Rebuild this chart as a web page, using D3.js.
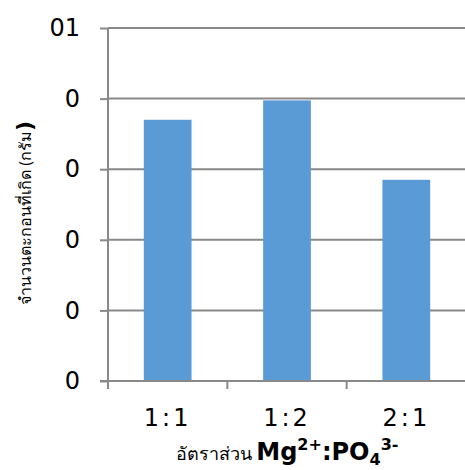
<!DOCTYPE html>
<html>
<head>
<meta charset="utf-8">
<script src="https://cdn.jsdelivr.net/npm/d3@7"></script>
<style>
  html, body { margin: 0; padding: 0; background: #fff; }
  svg { display: block; }
</style>
</head>
<body>
<script>
const categories = ["1:1", "1:2", "2:1"];
const values = [0.74, 0.795, 0.57];
const tickValues = [0, 0.2, 0.4, 0.6, 0.8, 1.0];
const tickLabels = ["0", "0", "0", "0", "0", "01"];

const W = 465, H = 470;
const margin = { left: 108, right: 0, top: 28, bottom: 89 };

const svg = d3.select("body").append("svg").attr("width", W).attr("height", H);

const x = d3.scaleBand().domain(categories)
  .range([margin.left, W + 1]).paddingInner(0.6).paddingOuter(0.3);
const y = d3.scaleLinear().domain([0, 1]).range([H - margin.bottom, margin.top]);

const gridColor = "#898989";
const font = "'DejaVu Sans', Verdana, sans-serif";

// gridlines
svg.append("g").selectAll("line").data(tickValues.slice(1)).join("line")
  .attr("x1", margin.left).attr("x2", W)
  .attr("y1", d => y(d)).attr("y2", d => y(d))
  .attr("stroke", gridColor).attr("stroke-width", 2);

// bars
svg.append("g").selectAll("rect").data(categories).join("rect")
  .attr("x", d => x(d))
  .attr("width", x.bandwidth())
  .attr("y", (d, i) => y(values[i]))
  .attr("height", (d, i) => y(0) - y(values[i]))
  .attr("fill", "#5B9BD5");

// y axis
const yAxis = d3.axisLeft(y).tickValues(tickValues)
  .tickFormat((d, i) => tickLabels[i]).tickSize(8).tickPadding(20);
const gy = svg.append("g").attr("transform", `translate(${margin.left},0)`).call(yAxis);
gy.select(".domain").attr("stroke", gridColor).attr("stroke-width", 2)
  .attr("d", `M0,${y(1)}V${y(0)}`);
gy.selectAll(".tick line").attr("stroke", gridColor).attr("stroke-width", 2);
gy.selectAll(".tick text").attr("font-family", font).attr("font-size", 24).attr("fill", "#000");

// x axis
const xAxis = d3.axisBottom(x).tickSize(0).tickPadding(28);
const gx = svg.append("g").attr("transform", `translate(0,${y(0)})`).call(xAxis);
gx.select(".domain").attr("stroke", gridColor).attr("stroke-width", 2)
  .attr("d", `M${margin.left - 8},0H${W}`);
gx.selectAll(".tick text").attr("font-family", font).attr("font-size", 24)
  .attr("letter-spacing", 3).attr("fill", "#000");
// category boundary ticks
const bounds = [0, 1, 2, 3].map(i => margin.left + i * (W + 1 - margin.left) / 3);
svg.append("g").selectAll("line").data(bounds).join("line")
  .attr("x1", d => d).attr("x2", d => d)
  .attr("y1", y(0)).attr("y2", y(0) + 8)
  .attr("stroke", gridColor).attr("stroke-width", 2);

// x title
const xt = svg.append("text").attr("x", 287).attr("y", 460)
  .attr("text-anchor", "middle").attr("fill", "#000")
  .attr("font-family", font);
xt.append("tspan").attr("font-size", 18).attr("font-family", "'Noto Sans', sans-serif").text("อัตราส่วน ");
xt.append("tspan").attr("font-size", 24).attr("font-weight", "bold").text("Mg");
xt.append("tspan").attr("font-size", 16).attr("font-weight", "bold").attr("dy", -10).text("2+");
xt.append("tspan").attr("font-size", 24).attr("font-weight", "bold").attr("dy", 10).text(":PO");
xt.append("tspan").attr("font-size", 16).attr("font-weight", "bold").attr("dy", 5).text("4");
xt.append("tspan").attr("font-size", 16).attr("font-weight", "bold").attr("dy", -15).text("3-");

// y title
const yt = svg.append("text")
  .attr("transform", "translate(31,213) rotate(-90)")
  .attr("text-anchor", "middle").attr("fill", "#000")
  .attr("font-family", "'Noto Sans', sans-serif");
yt.append("tspan").attr("font-size", 16).text("จำนวนตะกอนที่เกิด (กรัม");
yt.append("tspan").attr("font-size", 22).attr("font-weight", "bold").attr("font-family", font).attr("dy", 1).text(")");
</script>
</body>
</html>
